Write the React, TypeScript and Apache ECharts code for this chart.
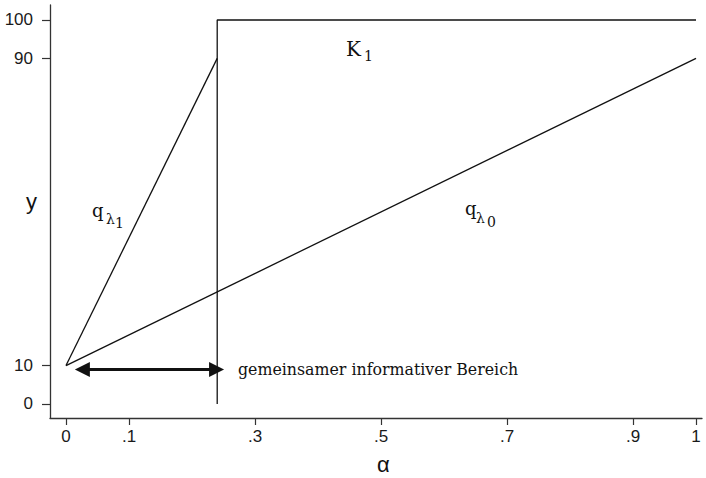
import React, { useEffect, useRef } from "react";
import * as echarts from "echarts";

const xTicks = [0, 0.1, 0.3, 0.5, 0.7, 0.9, 1];
const yTicks = [0, 10, 90, 100];
const lineLambda1: [number, number][] = [[0, 10], [0.24, 90]];
const lineLambda0: [number, number][] = [[0, 10], [1, 90]];
const lineK1: [number, number][] = [[0.24, 0], [0.24, 100], [1, 100]];
const arrowRange: [number, number][] = [[0.026, 9], [0.239, 9]];

const fmtX = (v: number) => (v === 0 ? "0" : v === 1 ? "1" : String(+v.toFixed(1)).replace(/^0\./, "."));

export default function App() {
  const ref = useRef<HTMLDivElement>(null);
  useEffect(() => {
    const chart = echarts.init(ref.current!, null, { renderer: "svg" });
    const serif = "'DejaVu Serif', serif";
    const sans = "'Liberation Sans', Arial, sans-serif";
    const lineStyle = { color: "#111", width: 1.3 };
    chart.setOption({
      animation: false,
      backgroundColor: "#fff",
      grid: { left: 50, right: 4, top: 5, bottom: 60 },
      xAxis: {
        type: "value",
        min: -0.0254,
        max: 1.0095,
        axisLine: { show: true, onZero: false, lineStyle: { color: "#333", width: 1.3 } },
        axisTick: { show: true, customValues: xTicks, length: 7, lineStyle: { color: "#333", width: 1.2 } },
        axisLabel: { customValues: xTicks, formatter: fmtX, fontFamily: sans, fontSize: 17, color: "#1a1a1a", margin: 10 },
        splitLine: { show: false },
      },
      yAxis: {
        type: "value",
        min: -3.65,
        max: 103.9,
        axisLine: { show: true, onZero: false, lineStyle: { color: "#333", width: 1.3 } },
        axisTick: { show: true, customValues: yTicks, length: 8, lineStyle: { color: "#333", width: 1.2 } },
        axisLabel: { customValues: yTicks, fontFamily: sans, fontSize: 17, color: "#1a1a1a", margin: 17 },
        splitLine: { show: false },
      },
      series: [
        { type: "line", data: lineLambda1, symbol: "none", lineStyle },
        { type: "line", data: lineLambda0, symbol: "none", lineStyle },
        { type: "line", data: lineK1, symbol: "none", lineStyle },
        {
          type: "lines",
          coordinateSystem: "cartesian2d",
          symbol: ["triangle", "triangle"],
          symbolSize: 15,
          lineStyle: { color: "#111", width: 3, opacity: 1 },
          itemStyle: { color: "#111" },
          data: [{ coords: arrowRange }],
        },
      ],
      graphic: [
        { type: "text", left: 238, top: 361, style: { text: "gemeinsamer informativer Bereich", font: `15.8px ${serif}`, fill: "#111" } },
        { type: "text", left: 346, top: 39, style: { text: "K", font: `20px ${serif}`, fill: "#111" } },
        { type: "text", left: 364, top: 49, style: { text: "1", font: `14px ${serif}`, fill: "#111" } },
        { type: "text", left: 92, top: 201, style: { text: "q", font: `18px ${serif}`, fill: "#111" } },
        { type: "text", left: 106, top: 212, style: { text: "λ", font: `14px ${serif}`, fill: "#111" } },
        { type: "text", left: 115, top: 216, style: { text: "1", font: `14px ${serif}`, fill: "#111" } },
        { type: "text", left: 465, top: 199, style: { text: "q", font: `18px ${serif}`, fill: "#111" } },
        { type: "text", left: 476, top: 211, style: { text: "λ", font: `14px ${serif}`, fill: "#111" } },
        { type: "text", left: 487, top: 215, style: { text: "0", font: `14px ${serif}`, fill: "#111" } },
        { type: "text", left: 26, top: 190, style: { text: "y", font: `22px ${sans}`, fill: "#111" } },
        { type: "text", left: 377, top: 453, style: { text: "α", font: `22px ${sans}`, fill: "#111" } },
      ],
    });
    return () => chart.dispose();
  }, []);
  return <div ref={ref} style={{ width: 706, height: 478, position: "absolute", left: 0, top: 0 }} />;
}
